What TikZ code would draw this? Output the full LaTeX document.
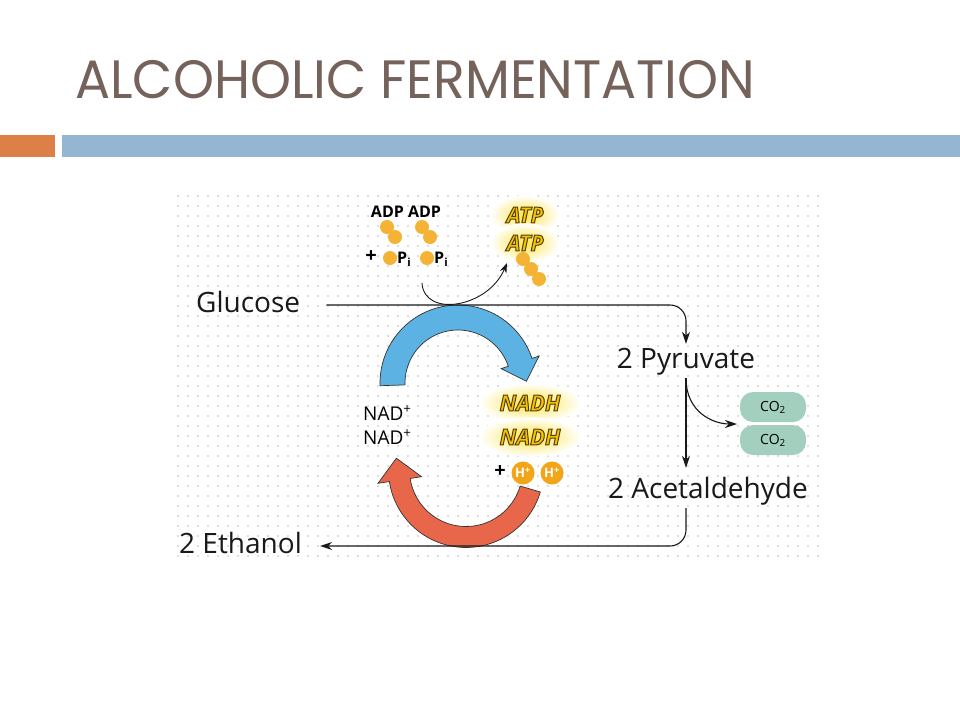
\documentclass[tikz,border=0pt]{standalone}
\usepackage{fontspec}
\setmainfont{Open Sans}
\newfontfamily\titlefont{Poppins}
\usetikzlibrary{arrows.meta,shapes.geometric}
\definecolor{titlebrown}{HTML}{75625A}
\definecolor{barorange}{HTML}{DD8047}
\definecolor{barblue}{HTML}{94B6D2}
\definecolor{arrowblue}{HTML}{5DB2E4}
\definecolor{arrowred}{HTML}{E8674A}
\definecolor{ballorange}{HTML}{F5B335}
\definecolor{hplus}{HTML}{F2A516}
\definecolor{co2green}{HTML}{A3D0BE}
\definecolor{atpyellow}{HTML}{F7C400}
\definecolor{glowyellow}{HTML}{FCE44A}
\newcommand{\outlinetext}[1]{\special{pdf:literal direct 2 Tr 1 w 0.33 0.24 0.02 RG}#1\special{pdf:literal direct 0 Tr}}

\begin{document}
\begin{tikzpicture}[x=1pt,y=-1pt,
  flow/.style={draw=black!90, line width=1.1pt, -{Stealth[length=12pt,width=8pt]}},
  molecule/.style={font=\fontsize{28}{32}\selectfont, text=black!90, text height=20pt, text depth=6pt, inner sep=4pt},
  tinytext/.style={font=\bfseries\fontsize{16}{18}\selectfont, inner sep=0pt},
  nadtext/.style={font=\fontsize{19}{22}\selectfont, inner sep=0pt},
  ball/.style={fill=ballorange},
  carrier/.style={ellipse, shade, inner color=glowyellow, outer color=white, inner sep=6pt,
    font=\bfseries\itshape\fontsize{22}{24}\selectfont, text=atpyellow},
  hball/.style={circle, fill=hplus, text=white, inner sep=0pt, minimum size=23pt,
    font=\bfseries\fontsize{13}{15}\selectfont},
  co2/.style={fill=co2green, rounded corners=13pt, minimum width=66pt, minimum height=30pt,
    font=\fontsize{14}{16}\selectfont},
  bigblue/.style={fill=arrowblue, draw=black!80, line width=0.7pt},
  bigred/.style={fill=arrowred, draw=black!80, line width=0.7pt}]
  \useasboundingbox (0,0) rectangle (960,720);
  \fill[white] (0,0) rectangle (960,720);

  % title and header bar
  \node[anchor=base west, text=titlebrown, font=\titlefont\fontsize{54}{60}\selectfont, inner sep=0pt]
    (title) at (75,98) {\scalebox{0.965}[1]{ALCOHOLIC FERMENTATION}};
  \fill[barorange] (0,135) rectangle (55,157);
  \fill[barblue] (62,135) rectangle (960,157);

  % dotted paper
  \foreach \i in {0,...,64}
    \foreach \j in {0,...,36}
      \fill[black!13] (177+10*\i,195+10*\j) rectangle +(1.6,1.6);

  % the two coenzyme arrows
  \filldraw[bigblue] plot[domain=178:341.6,samples=40,variable=\t] ({458+78*cos(\t)},{383+78*sin(\t)})
    -- (539.1,356.0) -- (526.4,381.3) -- (501.2,368.6)
    -- plot[domain=341.6:178,samples=40,variable=\t] ({458+53*cos(\t)},{383+53*sin(\t)}) -- cycle;
  \filldraw[bigred] plot[domain=16.5:171.4,samples=40,variable=\t] ({466+77.5*cos(\t)},{470+77.5*sin(\t)})
    -- (378.0,483.3) -- (396.4,458.2) -- (421.5,476.7)
    -- plot[domain=171.4:16.5,samples=40,variable=\t] ({466+56.5*cos(\t)},{470+56.5*sin(\t)}) -- cycle;

  % main pathway
  \node[molecule, anchor=base west] (glucose) at (192,312) {Glucose};
  \node[molecule, anchor=base] (pyruvate) at (686,368) {2 Pyruvate};
  \node[molecule, anchor=base west] (acetaldehyde) at (604,498) {2 Acetaldehyde};
  \node[molecule, anchor=base west] (ethanol) at (175,553) {2 Ethanol};
  \node[co2] (co2a) at (773,407) {CO\textsubscript{2}};
  \node[co2] (co2b) at (773,440) {CO\textsubscript{2}};
  \coordinate (co2in) at (737,424);

  \draw[flow, rounded corners=16] ([xshift=22pt]glucose.east) -| (pyruvate.north);
  \draw[flow] (pyruvate.south) -- ([yshift=6pt]pyruvate.south |- acetaldehyde.north);
  \draw[flow] (pyruvate.south) .. controls +(0,34) and +(-24,0) .. (co2in);
  \draw[flow, rounded corners=16] (pyruvate.south |- acetaldehyde.south) |- ([xshift=14pt]ethanol.east);

  % ADP + Pi -> ATP
  \node[tinytext] (adp) at (406,212) {ADP ADP};
  \foreach \x in {387,422} {
    \fill[ball] (\x,227) circle (7);
    \fill[ball] (\x+8,237) circle (7);
  }
  \node[tinytext, font=\bfseries\fontsize{20}{22}\selectfont] (plus) at (371,257) {+};
  \fill[ball] (390,258) circle (7);
  \node[tinytext, anchor=west] (piA) at (397,259) {P\textsubscript{i}};
  \fill[ball] (427,258) circle (7);
  \node[tinytext, anchor=west] (piB) at (434,259) {P\textsubscript{i}};
  \coordinate (pistart) at (422,283);
  \coordinate (atptip) at (507,263);
  \draw[flow, line width=0.9pt, -{Stealth[length=10pt,width=7pt]}] (pistart) .. controls (424,318) and (488,308) .. (atptip);
  \node[carrier] (atpA) at (525,215) {\outlinetext{ATP}};
  \node[carrier] (atpB) at (525,243) {\outlinetext{ATP}};
  \foreach \k in {0,1,2}
    \fill[ball] (523+8*\k,259+10*\k) circle (7);

  % NAD+ / NADH
  \node[nadtext, anchor=west] (nadA) at (363,413) {NAD\textsuperscript{+}};
  \node[nadtext, anchor=west] (nadB) at (363,437) {NAD\textsuperscript{+}};
  \node[carrier] (nadhA) at (530,403) {\outlinetext{NADH}};
  \node[carrier] (nadhB) at (530,437) {\outlinetext{NADH}};
  \node[tinytext, font=\bfseries\fontsize{20}{22}\selectfont] (plusH) at (500,472) {+};
  \node[hball] (hA) at (523,473) {H\textsuperscript{+}};
  \node[hball] (hB) at (552,473) {H\textsuperscript{+}};
\end{tikzpicture}
\end{document}
